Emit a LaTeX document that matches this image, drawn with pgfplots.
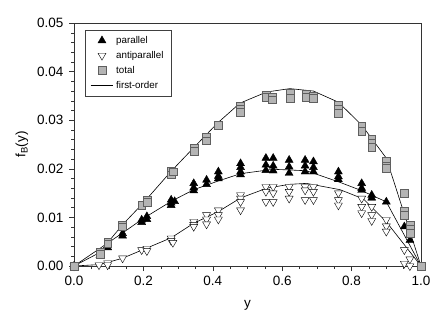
\documentclass[border=0pt]{standalone}
\usepackage{pgfplots}
\pgfplotsset{compat=1.18}
\usepackage{fontspec}
\setmainfont{Liberation Sans}

\definecolor{sqfill}{RGB}{180,180,180}
\definecolor{sqdraw}{RGB}{95,95,95}

\pgfplotsset{
    marklegend/.style={legend image code/.code={\draw[##1] plot coordinates {(0.4cm,0cm)};}},
    linelegend/.style={legend image code/.code={\draw[##1] (0cm,0cm) -- (0.8cm,0cm);}},
}

\begin{document}
\begin{tikzpicture}
\begin{axis}[
    scale only axis,
    width=347pt, height=243pt,
    xmin=0, xmax=1, ymin=0, ymax=0.05,
    xtick={0,0.2,0.4,0.6,0.8,1.0},
    ytick={0,0.01,0.02,0.03,0.04,0.05},
    minor x tick num=3, minor y tick num=4,
    tick align=outside,
    xtick pos=bottom, ytick pos=left,
    major tick length=5pt, minor tick length=3pt,
    axis line style={black!80},
    every tick/.style={black!80},
    scaled y ticks=false,
    /pgf/number format/assume math mode=true,
    xticklabel style={/pgf/number format/.cd, fixed, fixed zerofill, precision=1, /tikz/.cd, yshift=-2pt},
    yticklabel style={/pgf/number format/.cd, fixed, fixed zerofill, precision=2, /tikz/.cd, xshift=-2pt},
    tick label style={font=\fontsize{13.5}{16}\selectfont},
    label style={font=\fontsize{13.5}{16}\selectfont},
    xlabel={y},
    ylabel={f\textsubscript{B}(y)},
    xlabel style={at={(axis description cs:0.5,-0.16)}, anchor=center},
    ylabel style={at={(axis description cs:-0.15,0.5)}, anchor=center},
    legend style={at={(axis description cs:0.032,0.971)}, anchor=north west,
        draw=black!75, font=\fontsize{9.8}{11}\selectfont,
        row sep=2.4pt, inner xsep=5pt, inner ysep=4pt,
        nodes={inner xsep=2.5pt}},
    legend cell align=left,
]
% parallel
\addplot[only marks, mark=triangle*, mark size=4.6pt, mark options={fill=black, draw=black}, marklegend]
coordinates {
(0,0) (0.075,0.0022) (0.097,0.0038) (0.097,0.0042)
(0.14,0.0067) (0.14,0.0062)
(0.195,0.0095) (0.195,0.0090) (0.21,0.0102) (0.21,0.0096)
(0.28,0.0136) (0.28,0.0130) (0.28,0.0125) (0.29,0.0133)
(0.345,0.0170) (0.345,0.0161) (0.345,0.0155)
(0.382,0.0177) (0.382,0.0168)
(0.416,0.0194) (0.416,0.0185) (0.416,0.0180)
(0.48,0.0211) (0.48,0.0203) (0.48,0.0194) (0.48,0.0188)
(0.553,0.0222) (0.553,0.0208) (0.553,0.0197)
(0.574,0.0222) (0.574,0.0206) (0.574,0.0196)
(0.62,0.0218) (0.62,0.0204) (0.62,0.0191)
(0.666,0.0218) (0.666,0.0206) (0.666,0.0194)
(0.69,0.0215) (0.69,0.0203) (0.69,0.0194)
(0.762,0.0194) (0.762,0.0184) (0.762,0.0178)
(0.829,0.0170) (0.829,0.0160) (0.829,0.0156)
(0.858,0.0146) (0.858,0.0140)
(0.9,0.0132)
(0.952,0.0081) (0.968,0.0053)
};
\addlegendentry{parallel}
% antiparallel
\addplot[only marks, mark=triangle*, mark size=4.6pt, mark options={fill=white, draw=black, rotate=180}, marklegend]
coordinates {
(0,0) (0.072,0.0002) (0.097,0.0006) (0.097,0.0002)
(0.14,0.0016)
(0.195,0.0033) (0.21,0.0036) (0.21,0.0031)
(0.28,0.0057) (0.28,0.0052) (0.285,0.0048)
(0.345,0.0091) (0.345,0.0085) (0.345,0.0081)
(0.382,0.0105) (0.382,0.0096) (0.382,0.0086)
(0.416,0.0115) (0.416,0.0105) (0.416,0.0096)
(0.48,0.0146) (0.48,0.0139) (0.48,0.0132) (0.48,0.0115)
(0.553,0.0163) (0.553,0.0153) (0.553,0.0132)
(0.574,0.0163) (0.574,0.0150) (0.574,0.0132)
(0.62,0.0163) (0.62,0.0153) (0.62,0.0139)
(0.666,0.0163) (0.666,0.0156) (0.666,0.0136)
(0.69,0.0163) (0.69,0.0153) (0.69,0.0136)
(0.762,0.0150) (0.762,0.0136) (0.762,0.0125)
(0.829,0.0139) (0.829,0.0122) (0.829,0.0109)
(0.858,0.0122) (0.858,0.0105) (0.858,0.0093)
(0.9,0.0095) (0.9,0.0082) (0.9,0.0071)
(0.952,0.0033) (0.952,0.0005)
(0.968,0.0014) (0.968,0.0000)
};
\addlegendentry{antiparallel}
% total
\addplot[only marks, mark=square*, mark size=3.9pt, mark options={fill=sqfill, draw=sqdraw}, marklegend]
coordinates {
(0,0)
(0.075,0.0029) (0.075,0.0025)
(0.097,0.0050) (0.097,0.0046)
(0.14,0.0085) (0.14,0.0081)
(0.195,0.0125)
(0.21,0.0136) (0.21,0.0132)
(0.28,0.0195) (0.28,0.0188) (0.285,0.0194)
(0.347,0.0242) (0.347,0.0236)
(0.382,0.0265) (0.382,0.0258)
(0.415,0.0290)
(0.478,0.0328) (0.478,0.0322) (0.478,0.0317)
(0.555,0.0352) (0.555,0.0347)
(0.572,0.0348) (0.572,0.0342)
(0.622,0.0355) (0.622,0.0346)
(0.668,0.0353) (0.668,0.0347)
(0.69,0.0350) (0.69,0.0345)
(0.762,0.0331) (0.762,0.0322) (0.762,0.0314)
(0.829,0.0287) (0.829,0.0277)
(0.858,0.0262) (0.858,0.0252) (0.858,0.0244)
(0.9,0.0215) (0.9,0.0205) (0.9,0.0201)
(0.952,0.0150) (0.952,0.0112) (0.952,0.0105)
(0.968,0.0084) (0.968,0.0075) (0.968,0.0068)
(1.0,0)
};
\addlegendentry{total}
% first-order curves
\addplot[black, line width=0.6pt, linelegend]
coordinates {
(0,0) (0.075,0.0028) (0.097,0.0048) (0.14,0.0085) (0.2,0.0130) (0.28,0.0195)
(0.347,0.0245) (0.415,0.0295) (0.478,0.0335) (0.555,0.0358) (0.622,0.0365)
(0.69,0.0360) (0.762,0.0337) (0.829,0.0290) (0.9,0.0222) (1.0,0)
};
\addlegendentry{first-order}
\addplot[black, line width=0.6pt, forget plot]
coordinates {
(0,0) (0.14,0.0068) (0.2,0.0098) (0.28,0.0133) (0.345,0.0157) (0.416,0.0175)
(0.48,0.0190) (0.574,0.0199) (0.67,0.0196) (0.767,0.0172) (0.829,0.0155)
(0.9,0.0132) (1.0,0)
};
\addplot[black, line width=0.6pt, forget plot]
coordinates {
(0,0) (0.075,0.0003) (0.14,0.0016) (0.2,0.0034) (0.28,0.0058) (0.345,0.0088)
(0.416,0.0112) (0.48,0.0140) (0.555,0.0160) (0.62,0.0168) (0.67,0.0170)
(0.767,0.0157) (0.834,0.0138) (0.9,0.0091) (1.0,0)
};
\end{axis}
\path (-74pt,-55pt) rectangle (369pt,266pt);
\end{tikzpicture}
\end{document}
